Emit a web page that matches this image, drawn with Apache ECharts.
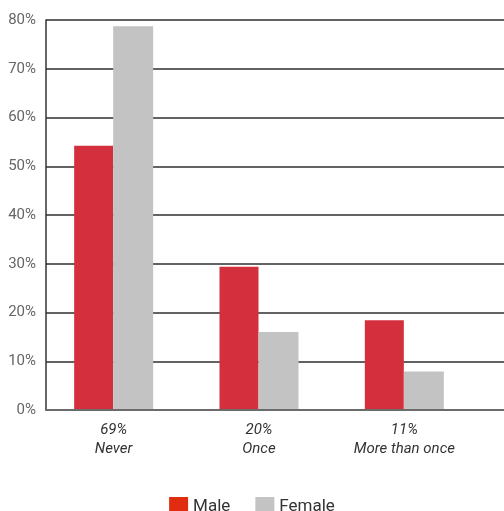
<!DOCTYPE html>
<html>
<head>
<meta charset="utf-8">
<script src="https://cdn.jsdelivr.net/npm/echarts@6/dist/echarts.min.js"></script>
<style>
  html, body { margin: 0; padding: 0; background: #fff; }
  #chart { width: 504px; height: 511px; }
</style>
</head>
<body>
<div id="chart"></div>
<script>
const categories = ['69%\nNever', '20%\nOnce', '11%\nMore than once'];
const male = [54.2, 29.4, 18.4];
const female = [78.7, 16.0, 7.9];
const yTicks = [0, 10, 20, 30, 40, 50, 60, 70, 80];

const font = "'Roboto', sans-serif";
const chart = echarts.init(document.getElementById('chart'));

const option = {
  backgroundColor: '#fff',
  animation: false,
  textStyle: {fontFamily: font},
  grid: [
    // frame: gridlines and axis lines
    {left: 46, right: 0, top: 20, bottom: 101},
    // bars
    {left: 41, width: 436, top: 20, bottom: 101}
  ],
  legend: {
    top: 492,
    left: 'center',
    icon: 'rect',
    itemWidth: 19,
    itemHeight: 19,
    itemGap: 25,
    textStyle: {fontFamily: font, fontSize: 17, color: '#333'},
    data: [
      {name: 'Male', itemStyle: {color: '#e02d10'}},
      {name: 'Female', itemStyle: {color: '#c3c3c3'}}
    ]
  },
  xAxis: [
    {
      gridIndex: 0,
      type: 'category',
      data: categories,
      axisLine: {show: true, lineStyle: {color: '#6b6b6b', width: 2}},
      axisTick: {show: false},
      axisLabel: {show: false},
      z: 5
    },
    {
      gridIndex: 1,
      type: 'category',
      data: categories,
      axisLine: {show: false},
      axisTick: {show: false},
      axisLabel: {
        margin: 11,
        fontFamily: font,
        fontStyle: 'italic',
        fontSize: 15,
        lineHeight: 19,
        color: '#333'
      }
    }
  ],
  yAxis: [
    {
      gridIndex: 0,
      type: 'value',
      min: yTicks[0],
      max: yTicks[yTicks.length - 1],
      interval: 10,
      axisLine: {show: true, lineStyle: {color: '#333', width: 1.5}},
      axisTick: {show: false},
      axisLabel: {
        margin: 10,
        fontFamily: font,
        fontSize: 15,
        color: '#666',
        formatter: '{value}%'
      },
      splitLine: {show: true, lineStyle: {color: '#2e2e2e', width: 1.5}}
    },
    {
      gridIndex: 1,
      type: 'value',
      min: yTicks[0],
      max: yTicks[yTicks.length - 1],
      interval: 10,
      show: false
    }
  ],
  series: [
    {
      name: 'Male',
      type: 'bar',
      xAxisIndex: 1,
      yAxisIndex: 1,
      data: male,
      barWidth: 39,
      barGap: '0%',
      itemStyle: {color: '#d32f3c'},
      z: 3
    },
    {
      name: 'Female',
      type: 'bar',
      xAxisIndex: 1,
      yAxisIndex: 1,
      data: female,
      barWidth: 40,
      barGap: '0%',
      itemStyle: {color: '#c3c3c3'},
      z: 3
    }
  ]
};

chart.setOption(option);
</script>
</body>
</html>
